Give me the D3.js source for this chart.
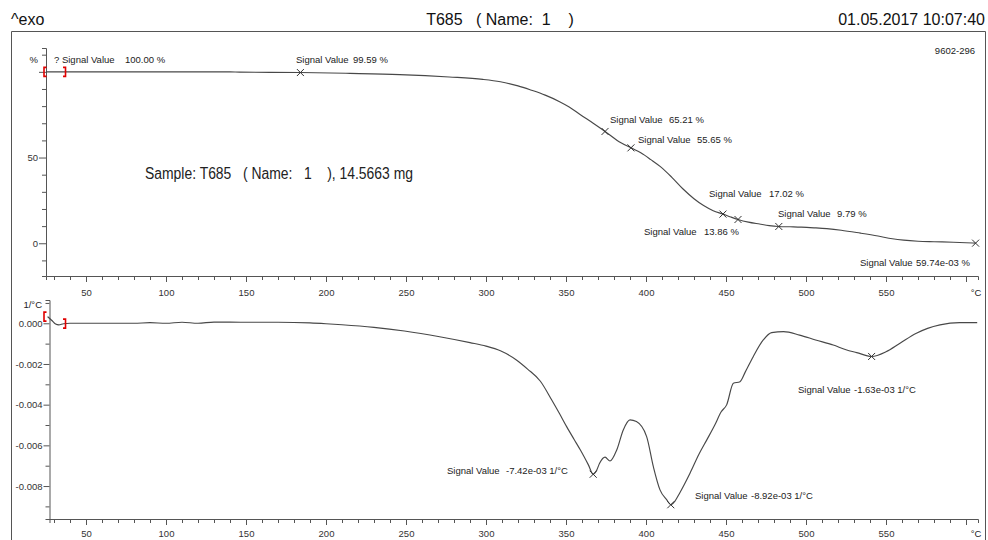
<!DOCTYPE html>
<html>
<head>
<meta charset="utf-8">
<script src="https://cdn.jsdelivr.net/npm/d3@7"></script>
<style>
  html, body { margin: 0; padding: 0; background: #fff; }
  svg { display: block; }
  text { white-space: pre; }
  .hdr { font-family: "Liberation Sans", Arial, sans-serif; font-size: 16px; fill: #111; }
  .sm { font-family: "Liberation Sans", Arial, sans-serif; font-size: 9.5px; fill: #222; }
  .tick text { font-family: "Liberation Sans", Arial, sans-serif; font-size: 9.5px; fill: #333; }
</style>
</head>
<body>
<script>
// ---- TG curve: mass signal (%) against temperature (°C)
const tgTemp = [25, 60, 100, 140, 146, 184, 215, 246, 277, 298, 309, 320, 328, 337, 346, 352, 359, 367,
  374.4, 382, 390.6, 397, 403, 409, 416, 423, 430, 436, 442, 448.1, 453, 457.5, 464, 471, 477, 483,
  490, 497, 505, 513, 522, 534, 545, 554, 561, 570, 580, 592, 600, 606];
const tgMass = [100, 100, 100, 100, 99.8, 99.59, 99.1, 98.4, 97.0, 95.6, 94.2, 91.8, 89.4, 86.4, 82.6, 79.5, 75.0, 70.0,
  65.21, 60.0, 55.65, 52.6, 48.8, 44.7, 38.6, 31.8, 26.0, 22.0, 19.0, 17.02, 15.3, 13.86, 12.3, 11.2, 10.3, 9.79,
  9.6, 9.4, 9.0, 8.5, 7.6, 5.9, 4.2, 2.6, 1.8, 1.2, 0.9, 0.6, 0.3, 0.05974];

// ---- DTG curve: rate (1/°C) against temperature (°C)
const dtgTemp = [26, 28.5, 31, 33, 36, 40, 60, 80, 90, 100, 110, 120, 130, 150, 170, 190, 200, 210, 230, 249,
  271, 290, 300, 309, 319, 326, 334, 341, 346, 350.4, 355, 359, 364, 367, 369, 371, 374.4, 377.5, 381.7,
  385.8, 390, 394, 400.4, 404.6, 408.75, 413, 415.5, 418, 421, 427.5, 433, 438, 443, 447, 450.4, 454.6,
  458.75, 462, 467, 473.3, 478.5, 486, 496, 506, 517, 525, 531.7, 541, 550, 558.75, 569, 576, 583.75, 596, 607];
const dtgRate = [0.00033, 0.00015, -0.00004, -0.00008, -0.00002, 0, 0, 0, 0.00003, 0, 0.00005, 0, 0.00006, 0.00005,
  0.00005, 0.00002, -0.00002, -0.00007, -0.0002, -0.00038, -0.00066, -0.00095, -0.00112, -0.00135, -0.0018, -0.00225,
  -0.00285, -0.00376, -0.00445, -0.00508, -0.0057, -0.00623, -0.00696, -0.00742, -0.00725, -0.00688, -0.00658,
  -0.00677, -0.00623, -0.00524, -0.00475, -0.00483, -0.00557, -0.00705, -0.00819, -0.00868, -0.00892, -0.00875,
  -0.00835, -0.00737, -0.00645, -0.00573, -0.005, -0.00435, -0.00401, -0.00295, -0.00287, -0.0024, -0.00164,
  -0.00082, -0.00046, -0.00041, -0.00058, -0.00082, -0.00107, -0.0013, -0.00144, -0.00163, -0.0014, -0.00098,
  -0.00049, -0.00025, -0.00008, 0.00003, 0.00003];

// ---- evaluated points
const tgMarkTemp = [184, 374.4, 390.6, 448.1, 457.5, 483, 606];
const tgMarkValue = [99.59, 65.21, 55.65, 17.02, 13.86, 9.79, 0.05974];
const tgMarkText = ["99.59 %", "65.21 %", "55.65 %", "17.02 %", "13.86 %", "9.79 %", "59.74e-03 %"];
const dtgMarkTemp = [367, 415.5, 541];
const dtgMarkValue = [-0.00742, -0.00892, -0.00163];
const dtgMarkText = ["-7.42e-03 1/°C", "-8.92e-03 1/°C", "-1.63e-03 1/°C"];
const evalRange = [25, 37.2];   // step-evaluation limits (red brackets)
const tgStartText = "100.00 %";

// ---- axis ticks and labels
const xTickLabels = [50, 100, 150, 200, 250, 300, 350, 400, 450, 500, 550];
const yTopTickLabels = [0, 50];
const yBotTickLabels = [0, -0.002, -0.004, -0.006, -0.008];

const W = 988, H = 540;
const svg = d3.select("body").append("svg").attr("width", W).attr("height", H);

// frame
svg.append("path").attr("d", "M11.5,545 V31.5 H985.5 V545")
  .attr("fill", "none").attr("stroke", "#555").attr("stroke-width", 1);

// header
svg.append("text").attr("class", "hdr").attr("x", 11).attr("y", 25).text("^exo");
svg.append("text").attr("class", "hdr").attr("x", 500).attr("y", 25).attr("text-anchor", "middle")
  .text("T685   ( Name:  1    )");
svg.append("text").attr("class", "hdr").attr("x", 985).attr("y", 25).attr("text-anchor", "end")
  .text("01.05.2017 10:07:40");
svg.append("text").attr("class", "sm").attr("x", 975).attr("y", 54).attr("text-anchor", "end")
  .text("9602-296");

// scales
const x = d3.scaleLinear().domain([25, 607.5]).range([46, 978]);
const xB = d3.scaleLinear().domain([x.invert(49.5), 607.5]).range([49.5, 978]);
const yT = d3.scaleLinear().domain([-19.1, 113.9]).range([276, 48]);
const yB = d3.scaleLinear().domain([-0.00962, 0.001145]).range([519, 300]);

const xTicks = d3.range(30, 601, 10);
const fmtRate = v => (v < 0 ? "-" : "") + Math.abs(v).toFixed(3);

function styleAxis(g, isMajor, majorLen, minorLen, dir) {
  g.select(".domain").attr("stroke", "#555");
  g.selectAll(".tick line").attr("stroke", "#555")
    .each(function(d) {
      const len = isMajor(d) ? majorLen : minorLen;
      d3.select(this).attr(dir, dir === "x2" ? -len : len);
    });
}

// top x axis
const gxT = svg.append("g").attr("transform", "translate(0,276)")
  .call(d3.axisBottom(x).tickValues(xTicks).tickSizeOuter(4).tickPadding(7)
    .tickFormat(d => xTickLabels.includes(d) ? d : ""));
styleAxis(gxT, d => d % 50 === 0, 6, 4, "y2");

// bottom x axis
const gxB = svg.append("g").attr("transform", "translate(0,519)")
  .call(d3.axisBottom(xB).tickValues(xTicks).tickSizeOuter(4).tickPadding(5)
    .tickFormat(d => xTickLabels.includes(d) ? d : ""));
styleAxis(gxB, d => d % 50 === 0, 6, 4, "y2");

// °C unit at the end of both x axis
[296, 537].forEach(yy => {
  svg.append("text").attr("class", "sm").attr("x", x(600) + 10).attr("y", yy)
    .attr("text-anchor", "middle").text("°C");
});

// top y axis
const yTopTicks = d3.range(-10, 111, 10);
const gyT = svg.append("g").attr("transform", "translate(46,0)")
  .call(d3.axisLeft(yT).tickValues(yTopTicks).tickSizeOuter(4).tickPadding(2)
    .tickFormat(d => yTopTickLabels.includes(d) ? d : ""));
styleAxis(gyT, d => d % 50 === 0, 7, 4, "x2");
svg.append("text").attr("class", "sm").attr("x", 38).attr("y", 63).attr("text-anchor", "end").text("%");

// bottom y axis
const yBotTicks = d3.range(-9, 2, 1).map(k => k / 1000);
const gyB = svg.append("g").attr("transform", "translate(49.5,0)")
  .call(d3.axisLeft(yB).tickValues(yBotTicks).tickSizeOuter(4).tickPadding(1)
    .tickFormat(d => yBotTickLabels.some(v => Math.abs(v - d) < 1e-9) ? fmtRate(d) : ""));
styleAxis(gyB, d => Math.round(d * 1000) % 2 === 0, 6, 4, "x2");
svg.append("text").attr("class", "sm").attr("x", 42).attr("y", 308).attr("text-anchor", "end").text("1/°C");

// curves
const tgData = tgTemp.map((t, i) => [t, tgMass[i]]);
const dtgData = dtgTemp.map((t, i) => [t, dtgRate[i]]);
svg.append("path").datum(tgData)
  .attr("d", d3.line().x(d => x(d[0])).y(d => yT(d[1])).curve(d3.curveMonotoneX))
  .attr("fill", "none").attr("stroke", "#484848").attr("stroke-width", 1.15);
svg.append("path").datum(dtgData)
  .attr("d", d3.line().x(d => x(d[0])).y(d => yB(d[1])).curve(d3.curveMonotoneX))
  .attr("fill", "none").attr("stroke", "#484848").attr("stroke-width", 1.15);

// cross markers
function cross(px, py) {
  const s = 3.5;
  svg.append("path").attr("d", `M${px - s},${py - s}L${px + s},${py + s}M${px - s},${py + s}L${px + s},${py - s}`)
    .attr("stroke", "#333").attr("stroke-width", 1).attr("fill", "none");
}
tgMarkTemp.forEach((t, i) => cross(x(t), yT(tgMarkValue[i])));
dtgMarkTemp.forEach((t, i) => cross(x(t), yB(dtgMarkValue[i])));

// value labels: [left x of "Signal Value", left x of value, baseline]
const tgLabelPos = [[296, 353, 63], [610, 669, 123], [638, 697, 142.5], [709, 769, 197],
  [644, 704, 235], [778, 837, 216.5], [860, 916, 265.5]];
const dtgLabelPos = [[447, 506, 474], [695, 751, 498.5], [798, 854, 392.5]];
function label(pos, txt) {
  svg.append("text").attr("class", "sm").attr("x", pos[0]).attr("y", pos[2]).text("Signal Value");
  svg.append("text").attr("class", "sm").attr("x", pos[1]).attr("y", pos[2]).text(txt);
}
tgMarkText.forEach((t, i) => label(tgLabelPos[i], t));
dtgMarkText.forEach((t, i) => label(dtgLabelPos[i], t));
svg.append("text").attr("class", "sm").attr("x", 54).attr("y", 63).text("? Signal Value");
svg.append("text").attr("class", "sm").attr("x", 125).attr("y", 63).text(tgStartText);

// evaluation range brackets
function valueAt(ts, vs, t) {
  if (t <= ts[0]) return vs[0];
  const i = d3.bisectLeft(ts, t);
  const f = (t - ts[i - 1]) / (ts[i] - ts[i - 1]);
  return vs[i - 1] + f * (vs[i] - vs[i - 1]);
}
function bracket(px, py, open) {
  const h = 4.5, w = open ? 2.5 : -2.5;
  const xv = open ? px - 2 : px;
  svg.append("path").attr("d", `M${xv + w},${py - h}H${xv}V${py + h}H${xv + w}`)
    .attr("stroke", "#e00000").attr("stroke-width", 1.6).attr("fill", "none");
}
bracket(x(evalRange[0]), yT(valueAt(tgTemp, tgMass, evalRange[0])), true);
bracket(x(evalRange[1]), yT(valueAt(tgTemp, tgMass, evalRange[1])), false);
bracket(x(evalRange[0]), yB(valueAt(dtgTemp, dtgRate, evalRange[0])), true);
bracket(x(evalRange[1]), yB(valueAt(dtgTemp, dtgRate, evalRange[1])), false);

// sample description
svg.append("text").attr("x", 145).attr("y", 179)
  .style("font-family", "'Liberation Sans', Arial, sans-serif").style("font-size", "16px").style("fill", "#222")
  .attr("textLength", 268).attr("lengthAdjust", "spacingAndGlyphs")
  .text("Sample: T685   ( Name:   1    ), 14.5663 mg");
</script>
</body>
</html>
